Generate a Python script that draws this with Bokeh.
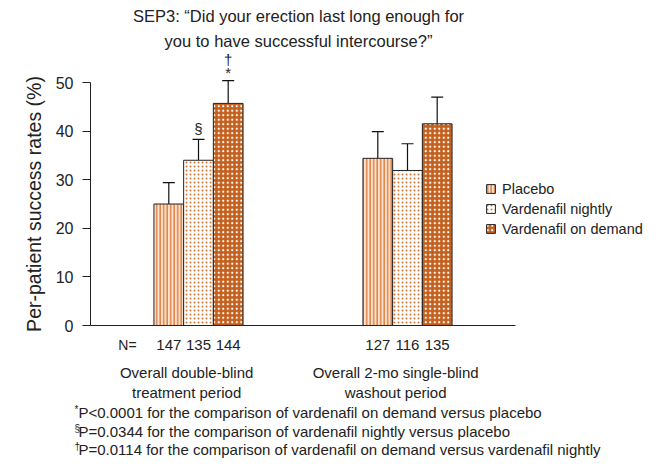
import numpy as np
from bokeh.plotting import figure
from bokeh.models import (ColumnDataSource, Whisker, TeeHead, Label, Legend,
                          LegendItem, FixedTicker, Range1d)
from bokeh.core.properties import value
from bokeh.embed import file_html
from bokeh.resources import INLINE

# ---------------- data ----------------
periods = ["Overall double-blind\ntreatment period",
           "Overall 2-mo single-blind\nwashout period"]
series = ["Placebo", "Vardenafil nightly", "Vardenafil on demand"]
placebo = [25.0, 34.4]
nightly = [34.0, 31.9]
on_demand = [45.7, 41.5]
placebo_upper = [29.4, 39.9]
nightly_upper = [38.3, 37.4]
on_demand_upper = [50.4, 47.0]
n_placebo = [147, 127]
n_nightly = [135, 116]
n_on_demand = [144, 135]
y_ticks = [0, 10, 20, 30, 40, 50]
sig_marks = [("Vardenafil nightly", 0, "§"),
             ("Vardenafil on demand", 0, "*"),
             ("Vardenafil on demand", 0, "†")]
footnotes = [("*", "P<0.0001 for the comparison of vardenafil on demand versus placebo"),
             ("§", "P=0.0344 for the comparison of vardenafil nightly versus placebo"),
             ("†", "P=0.0114 for the comparison of vardenafil on demand versus vardenafil nightly")]
title_lines = ["SEP3: \u201cDid your erection last long enough for",
               "you to have successful intercourse?\u201d"]

# ---------------- layout ----------------
W, H = 654, 462
PX_X = 29.7     # px per x unit (one bar width)
PX_Y = 4.86     # px per y unit
X0_PAGE, Y0_PAGE = 90, 325   # page position of the axes origin

def dx(page_x):
    return (page_x - X0_PAGE) / PX_X

def dy(page_y):
    return (Y0_PAGE - page_y) / PX_Y

group_centers = [dx(198), dx(407)]
offsets = [-1, 0, 1]
FONT = "Liberation Sans"
ORANGE = "#C4601D"
TXT = "#222222"

p = figure(width=W, height=H, output_backend="svg", toolbar_location=None,
           x_range=Range1d(dx(0), dx(W)), y_range=Range1d(dy(H), dy(0)),
           min_border=0, outline_line_color=None)
p.grid.visible = False

values = [placebo, nightly, on_demand]
uppers = [placebo_upper, nightly_upper, on_demand_upper]
counts = [n_placebo, n_nightly, n_on_demand]
styles = [
    dict(fill_color="#FCE3CF", hatch_pattern="vertical_line", hatch_color="#E0844A",
         hatch_scale=3.5, hatch_weight=1.6),
    dict(fill_color="#FFFFFF", hatch_pattern="dot", hatch_color="#D8722F",
         hatch_scale=4, hatch_weight=1.2),
    dict(fill_color=ORANGE, hatch_pattern="dot", hatch_color="#FFFFFF",
         hatch_scale=4.5, hatch_weight=1),
]

items = []
xpos = {}
for s, (name, vals, ups, st) in enumerate(zip(series, values, uppers, styles)):
    xs = [c + offsets[s] for c in group_centers]
    xpos[name] = xs
    src = ColumnDataSource(dict(x=xs, top=vals, upper=ups))
    r = p.vbar(x="x", top="top", width=1, bottom=0, source=src,
               line_color=TXT, line_width=1, **st)
    items.append(LegendItem(label=name, renderers=[r]))
    p.add_layout(Whisker(base="x", lower="top", upper="upper", source=src,
                         dimension="height", line_color="#111111", line_width=1.2,
                         upper_head=TeeHead(size=12, line_color="#111111", line_width=1.2),
                         lower_head=None))

# N labels
n_x, n_t = [], []
for s, name in enumerate(series):
    for g in range(2):
        n_x.append(xpos[name][g])
        n_t.append(str(counts[s][g]))
p.text(x=n_x, y=[dy(344)] * len(n_x), text=n_t, text_align="center",
       text_baseline="middle", text_font=value(FONT), text_font_size="15px",
       text_color=TXT)
p.add_layout(Label(x=dx(127), y=dy(344), text="N=", text_align="center",
                   text_baseline="middle", text_font=FONT, text_font_size="14px",
                   text_color=TXT))

# period labels
for g, lab in enumerate(periods):
    p.add_layout(Label(x=group_centers[g] - 0.4, y=dy(363), text=lab,
                       text_align="center", text_baseline="top",
                       text_font=FONT, text_font_size="15px",
                       text_color=TXT, text_line_height=1.2))

# significance marks
sig_off = {"§": 11, "*": 8, "†": 21}
for name, g, sym in sig_marks:
    idx = series.index(name)
    p.add_layout(Label(x=xpos[name][g], y=uppers[idx][g] + sig_off[sym] / PX_Y,
                       text=sym, text_align="center", text_baseline="middle",
                       text_font=FONT, text_font_size="15px", text_color=TXT))

# title
for i, t in enumerate(title_lines):
    p.add_layout(Label(x=dx(298), y=dy(15 + 25 * i), text=t, text_align="center",
                       text_baseline="middle", text_font=FONT, text_font_size="16.5px",
                       text_color=TXT))

# footnotes
for i, (sym, t) in enumerate(footnotes):
    yy = dy(412 + 18.5 * i)
    p.add_layout(Label(x=dx(74), y=yy + 3 / PX_Y, text=sym, text_align="left",
                       text_baseline="middle", text_font=FONT, text_font_size="10px",
                       text_color=TXT))
    p.add_layout(Label(x=dx(78), y=yy, text=t, text_align="left",
                       text_baseline="middle", text_font=FONT, text_font_size="15px",
                       text_color=TXT))

# axes
ya = p.yaxis[0]
ya.fixed_location = 0
ya.bounds = (0, 50)
ya.ticker = FixedTicker(ticks=y_ticks)
ya.minor_tick_line_color = None
ya.major_tick_in = 0
ya.major_tick_out = 8
ya.major_label_standoff = 9
ya.major_label_text_font = FONT
ya.major_label_text_font_size = "16px"
ya.major_label_text_color = TXT
ya.axis_line_color = TXT
ya.major_tick_line_color = TXT
ya.axis_label = "Per-patient success rates (%)"
ya.axis_label_text_font = FONT
ya.axis_label_text_font_size = "19.5px"
ya.axis_label_text_font_style = "normal"
ya.axis_label_text_color = TXT
ya.axis_label_standoff = 8

xa = p.xaxis[0]
xa.fixed_location = 0
xa.bounds = (0, dx(515))
xa.ticker = FixedTicker(ticks=[])
xa.minor_tick_line_color = None
xa.major_tick_line_color = None
xa.major_label_text_font_size = "0px"
xa.axis_line_color = TXT

legend = Legend(items=items, location=(485, 225), padding=0, margin=0,
                border_line_alpha=0, background_fill_alpha=0,
                glyph_width=11, glyph_height=11, label_height=17, spacing=3,
                label_standoff=6, label_text_font=FONT,
                label_text_font_size="14.5px", label_text_color=TXT)
p.add_layout(legend)

open("out.html", "w").write(file_html(p, INLINE))
